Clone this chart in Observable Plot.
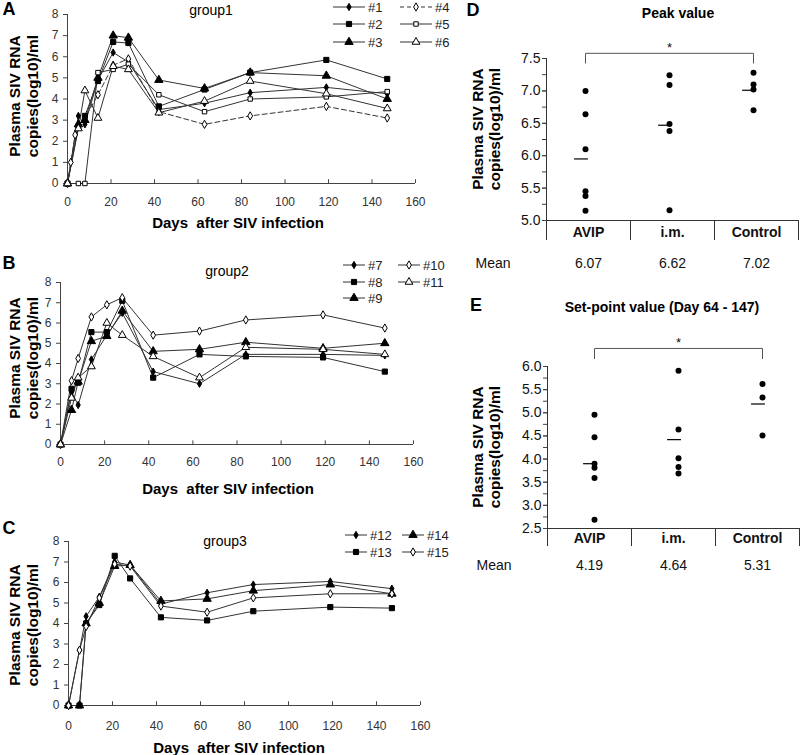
<!DOCTYPE html>
<html><head><meta charset="utf-8">
<script src="https://cdn.jsdelivr.net/npm/d3@7"></script>
<script src="https://cdn.jsdelivr.net/npm/@observablehq/plot@0.6"></script>
<style>
body{margin:0;background:#fff;}
#root{position:relative;width:800px;height:755px;overflow:hidden;font-family:"Liberation Sans",Arial,sans-serif;color:#000;}
.abs{position:absolute;white-space:pre;line-height:1;}
</style></head><body><div id="root"></div>
<script>
// ---------- data: time courses ----------
const days = [0, 5, 8, 14, 21, 28, 42, 63, 84, 119, 147];
const days4 = [0, 1.5, 3.5, 14, 21, 28, 42, 63, 84, 119, 147];
const g1Names = ["#1", "#2", "#3", "#4", "#5", "#6"];
const g1_1 = [0, 3.2, 2.8, 4.9, 6.2, 5.75, 3.5, 3.8, 4.3, 4.55, 4.25];
const g1_2 = [0, 2.7, 3.2, 4.85, 6.7, 6.65, 3.65, 4.45, 5.25, 5.85, 4.95];
const g1_3 = [0, 2.8, 3.0, 5.0, 7.0, 6.9, 4.9, 4.5, 5.25, 5.1, 4.0];
const g1_4 = [0, 1.0, 2.3, 4.2, 5.6, 5.9, 3.4, 2.8, 3.2, 3.65, 3.1];
const g1_5 = [0, 0, 0, 5.25, 5.4, 5.65, 4.2, 3.4, 4.0, 4.1, 4.35];
const g1_6 = [0, 2.6, 4.4, 3.1, 5.55, 5.4, 3.35, 3.9, 4.85, 4.25, 3.55];

const g2Names = ["#7", "#8", "#9", "#10", "#11"];
const g2_7 = [0, 2.6, 1.95, 4.2, 5.4, 6.5, 3.6, 3.0, 4.45, 4.45, 4.4];
const g2_8 = [0, 2.75, 3.05, 5.55, 5.55, 7.1, 3.3, 4.45, 4.35, 4.3, 3.6];
const g2_9 = [0, 1.7, 3.1, 5.1, 5.35, 6.6, 4.6, 4.7, 5.05, 4.75, 5.0];
const g2_10 = [0, 3.15, 4.25, 6.3, 6.9, 7.25, 5.4, 5.6, 6.15, 6.4, 5.75];
const g2_11 = [0, 2.3, 3.3, 3.85, 6.0, 5.4, 4.35, 3.3, 4.8, 4.7, 4.45];

const g3Names = ["#12", "#13", "#14", "#15"];
const g3_12 = [0, 2.7, 4.35, 5.3, 7.0, 6.85, 4.95, 5.5, 5.9, 6.05, 5.7];
const g3_13 = [0, 0, 4.0, 4.9, 7.3, 6.2, 4.3, 4.15, 4.6, 4.8, 4.75];
const g3_14 = [0, 0, 4.0, 5.0, 6.8, 6.85, 5.1, 5.2, 5.6, 5.9, 5.45];
const g3_15 = [0, 2.7, 3.85, 5.25, 6.9, 6.8, 4.85, 4.55, 5.25, 5.45, 5.45];

const xTicks = [0, 20, 40, 60, 80, 100, 120, 140, 160];
const yTicks = [0, 1, 2, 3, 4, 5, 6, 7, 8];

// ---------- data: peak / set-point ----------
const cats = ["AVIP", "i.m.", "Control"];
const peakAVIP = [7.0, 6.64, 6.10, 5.45, 5.38, 5.15];
const peakIM = [7.24, 7.09, 6.49, 6.38, 5.16];
const peakCtrl = [7.28, 7.10, 7.02, 6.70];
const peakMeanMark = [5.95, 6.47, 7.01];
const peakMeanText = ["6.07", "6.62", "7.02"];
const setAVIP = [4.96, 4.47, 3.90, 3.81, 3.59, 2.69];
const setIM = [5.91, 4.64, 4.02, 3.83, 3.69];
const setCtrl = [5.62, 5.33, 4.51];
const setMeanMark = [3.90, 4.42, 5.19];
const setMeanText = ["4.19", "4.64", "5.31"];

// ---------- styles ----------
const sFD = {sym: "diamond", r: 2.2, fill: "#000"};
const sFS = {sym: "square", r: 2.9, fill: "#000"};
const sFT = {sym: "triangle", r: 3.1, fill: "#000"};
const sOD = {sym: "diamond", r: 2.5, fill: "#fff"};
const sOS = {sym: "square", r: 2.5, fill: "#fff"};
const sOT = {sym: "triangle", r: 2.9, fill: "#fff"};
const symMap = {diamond: d3.symbolDiamond, square: d3.symbolSquare, triangle: d3.symbolTriangle};

const root = document.getElementById("root");
const FONT = '"Liberation Sans", Arial, sans-serif';

function addText(txt, x, y, opts = {}) {
  const d = document.createElement("div");
  d.className = "abs";
  d.textContent = txt;
  d.style.left = x + "px";
  d.style.top = y + "px";
  const a = opts.anchor || "middle";
  const tx = a === "middle" ? "-50%" : a === "end" ? "-100%" : "0";
  d.style.transform = opts.rotate ? "translate(-50%,-50%) rotate(-90deg)" : `translate(${tx},-50%)`;
  d.style.fontSize = (opts.size || 14) + "px";
  d.style.fontWeight = opts.bold ? "bold" : "normal";
  if (opts.color) d.style.color = opts.color;
  root.appendChild(d);
}
function place(el, left, top) {
  el.style.position = "absolute";
  el.style.left = left + "px";
  el.style.top = top + "px";
  root.appendChild(el);
}
function legendItem(x, y, len, st, label) {
  const svg = d3.create("svg").attr("width", len).attr("height", 12).style("overflow", "visible");
  svg.append("line").attr("x1", 0).attr("x2", len).attr("y1", 6).attr("y2", 6)
    .attr("stroke", "#333").attr("stroke-dasharray", st.dash || null);
  svg.append("path").attr("transform", `translate(${len / 2},6)`)
    .attr("d", d3.symbol(symMap[st.sym], Math.PI * st.r * st.r)())
    .attr("fill", st.fill).attr("stroke", "#000");
  place(svg.node(), x, y - 6);
  addText(label, x + len + 3, y, {anchor: "start", size: 13, color: "#222"});
}

function linePanel(cfg) {
  const rows = [];
  cfg.names.forEach((n, k) => {
    const dd = (cfg.dayArrays && cfg.dayArrays[k]) || days;
    cfg.values[k].forEach((v, j) => {
      if (v != null) rows.push({s: n, day: dd[j], v});
    });
  });
  const marks = [
    Plot.ruleY([0], {stroke: "#444"}),
    Plot.ruleX([0], {y1: 0, y2: 8, stroke: "#444"}),
    Plot.ruleX(xTicks.filter(t => t > 0), {y1: 0, y2: 0.18, stroke: "#444"}),
    Plot.axisY({ticks: yTicks, tickSize: 4, tickPadding: 5, label: null, stroke: "#444"}),
    Plot.axisX({ticks: xTicks, tickSize: 0, tickPadding: cfg.xPad, label: null})
  ];
  cfg.names.forEach((n, k) => {
    const st = cfg.styles[k];
    marks.push(Plot.line(rows.filter(r => r.s === n), {x: "day", y: "v", stroke: "#333", strokeWidth: 1, strokeDasharray: st.dash}));
  });
  cfg.names.forEach((n, k) => {
    const st = cfg.styles[k];
    marks.push(Plot.dot(rows.filter(r => r.s === n), {x: "day", y: "v", symbol: st.sym, r: st.r, fill: st.fill, stroke: "#000", strokeWidth: 1}));
  });
  const p = Plot.plot({
    width: cfg.width, height: cfg.height,
    marginLeft: cfg.mL, marginRight: cfg.mR, marginTop: cfg.mT, marginBottom: cfg.mB,
    x: {domain: [0, 160], label: null, axis: null},
    y: {domain: [0, 8], label: null, axis: null},
    style: {fontFamily: FONT, fontSize: "12px", color: "#333", background: "transparent", overflow: "visible"},
    marks
  });
  place(p, cfg.left, cfg.top);
}

function scatterPanel(cfg) {
  const [lo, hi] = cfg.domain;
  const pxPerUnit = (cfg.height - cfg.mT - cfg.mB) / (hi - lo);
  const yExt = lo - cfg.ext / pxPerUnit;
  const pts = [];
  cfg.vals.forEach((arr, i) => arr.forEach(v => pts.push({i, v})));
  const means = cfg.meanMark.map((v, i) => ({i, v, t: cfg.meanText[i], c: cats[i]}));
  const nMinor = Math.round((hi - lo) / 0.25);
  const minor = d3.range(nMinor + 1).map(k => lo + k * 0.25);
  const major = minor.filter((d, k) => k % 2 === 0);
  const bracket = [{i: 0, v: cfg.bEnd}, {i: 0, v: cfg.bTop}, {i: 2, v: cfg.bTop}, {i: 2, v: cfg.bEnd}];
  const p = Plot.plot({
    width: cfg.width, height: cfg.height,
    marginLeft: cfg.mL, marginRight: cfg.mR, marginTop: cfg.mT, marginBottom: cfg.mB,
    x: {domain: [-0.5, 2.5], label: null, axis: null},
    y: {domain: [lo, hi], label: null, axis: null},
    style: {fontFamily: FONT, fontSize: "14px", color: "#111", background: "transparent", overflow: "visible"},
    marks: [
      Plot.axisY({ticks: minor, tickSize: 4, tickFormat: () => "", label: null, stroke: "#444"}),
      Plot.axisY({ticks: major, tickSize: 4, tickPadding: 2, tickFormat: d => d.toFixed(1), label: null, stroke: "#444"}),
      Plot.ruleY([lo], {stroke: "#333"}),
      Plot.ruleX([-0.5], {y1: yExt, y2: hi, stroke: "#333"}),
      Plot.ruleX([0.5, 1.5, 2.5], {y1: lo, y2: yExt, stroke: "#333"}),
      Plot.text(means, {x: "i", y: lo, text: "c", dy: cfg.catDy, fontWeight: "bold", fontSize: 14}),
      Plot.text(means, {x: "i", y: lo, text: "t", dy: cfg.meanDy, fontSize: 14}),
      Plot.text(["Mean"], {x: -0.5, y: lo, text: d => d, dy: cfg.meanDy, dx: -36, textAnchor: "end", fontSize: 14}),
      Plot.line(bracket, {x: "i", y: "v", stroke: "#555", strokeWidth: 1, dx: cfg.dx}),
      Plot.text(["*"], {x: 1, y: cfg.ast, text: d => d, fontSize: 13, dx: cfg.dx}),
      Plot.ruleY(means, {y: "v", x1: d => d.i - 0.13, x2: d => d.i + 0.035, stroke: "#000", strokeWidth: 1.2, dx: cfg.dx}),
      Plot.dot(pts, {x: "i", y: "v", r: 3, fill: "#000", dx: cfg.dx})
    ]
  });
  place(p, cfg.left, cfg.top);
}

// ---------- Panel A ----------
linePanel({left: 0, top: 0, width: 440, height: 240, mL: 67, mR: 25, mT: 14, mB: 57, xPad: 14,
  names: g1Names, values: [g1_1, g1_2, g1_3, g1_4, g1_5, g1_6],
  dayArrays: [null, null, null, days4, null, null],
  styles: [sFD, sFS, sFT, {...sOD, dash: "5,3"}, sOS, sOT]});
// ---------- Panel B ----------
linePanel({left: 0, top: 240, width: 440, height: 240, mL: 60, mR: 27, mT: 42, mB: 36, xPad: 13,
  names: g2Names, values: [g2_7, g2_8, g2_9, g2_10, g2_11],
  styles: [sFD, sFS, sFT, sOD, sOT]});
// ---------- Panel C ----------
linePanel({left: 0, top: 480, width: 440, height: 275, mL: 68, mR: 20, mT: 61, mB: 50, xPad: 16,
  names: g3Names, values: [g3_12, g3_13, g3_14, g3_15],
  styles: [sFD, sFS, sFT, sOD]});

// ---------- Panel D ----------
scatterPanel({left: 480, top: 0, width: 320, height: 280, mL: 66, mR: 2, mT: 58, mB: 60,
  domain: [5, 7.5], vals: [peakAVIP, peakIM, peakCtrl], meanMark: peakMeanMark, meanText: peakMeanText,
  ext: 20, catDy: 12, meanDy: 43, dx: -3, bTop: 7.58, bEnd: 7.43, ast: 7.66});
// ---------- Panel E ----------
scatterPanel({left: 480, top: 280, width: 320, height: 320, mL: 67, mR: 1, mT: 86, mB: 72,
  domain: [2.5, 6.0], vals: [setAVIP, setIM, setCtrl], meanMark: setMeanMark, meanText: setMeanText,
  ext: 18, catDy: 10, meanDy: 37, dx: 5, bTop: 6.39, bEnd: 6.17, ast: 6.52});

// ---------- texts ----------
const ylab1 = "Plasma SIV RNA", ylab2 = "copies(log10)/ml", xlab = "Days  after SIV infection";
[[96, 15, 33], [358, 15, 33], [625, 15, 33], [129, 478, 495], [447, 478, 495]].forEach(([cy, x1, x2]) => {
  addText(ylab1, x1, cy, {rotate: true, bold: true, size: 15.5});
  addText(ylab2, x2, cy, {rotate: true, bold: true, size: 15.5});
});
addText(xlab, 238, 222, {bold: true, size: 15});
addText(xlab, 228, 488, {bold: true, size: 15});
addText(xlab, 239, 747, {bold: true, size: 15});
addText("group1", 211, 10, {size: 14});
addText("group2", 227, 271, {size: 14});
addText("group3", 225, 541, {size: 14});
addText("A", 9, 9, {bold: true, size: 18});
addText("B", 9, 263, {bold: true, size: 18});
addText("C", 9, 528, {bold: true, size: 18});
addText("D", 473, 10, {bold: true, size: 18});
addText("E", 476, 305, {bold: true, size: 18});
addText("Peak value", 678, 13, {bold: true, size: 14});
addText("Set-point value (Day 64 - 147)", 662, 307, {bold: true, size: 14});

// ---------- legends ----------
legendItem(333, 7, 32, sFD, "#1");
legendItem(333, 24, 32, sFS, "#2");
legendItem(333, 42, 32, sFT, "#3");
legendItem(400, 7, 32, {...sOD, dash: "4,3"}, "#4");
legendItem(400, 24, 32, sOS, "#5");
legendItem(400, 42, 32, sOT, "#6");
legendItem(343, 265, 22, sFD, "#7");
legendItem(343, 282, 22, sFS, "#8");
legendItem(343, 298, 22, sFT, "#9");
legendItem(398, 265, 22, sOD, "#10");
legendItem(398, 282, 22, sOT, "#11");
legendItem(345, 535, 22, sFD, "#12");
legendItem(345, 552, 22, sFS, "#13");
legendItem(402, 535, 22, sFT, "#14");
legendItem(402, 552, 22, sOD, "#15");
</script></body></html>
